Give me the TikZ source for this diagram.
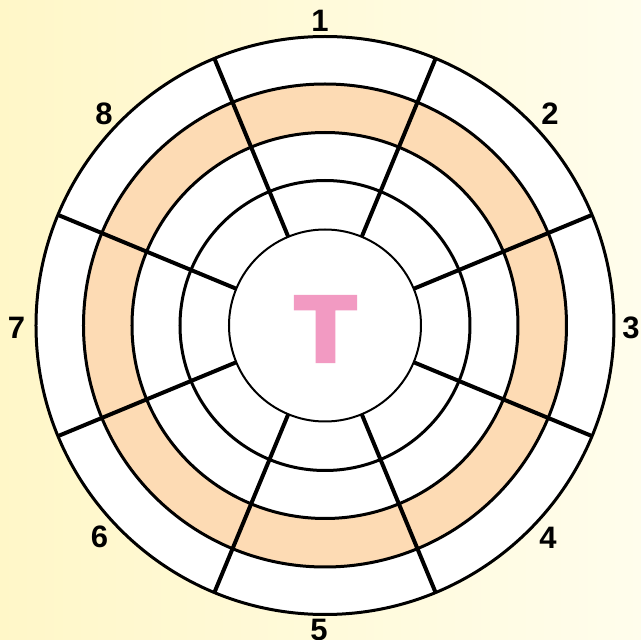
\documentclass[tikz,border=0pt]{standalone}
\usepackage{fontspec}
\setmainfont{Liberation Sans}
\newfontfamily\teefont{DejaVu Sans}[BoldFeatures={FakeBold=3}]
\usetikzlibrary{positioning}
\definecolor{peach}{RGB}{253,219,180}
\definecolor{teepink}{RGB}{242,154,194}
\definecolor{bgleft}{RGB}{255,247,200}
\definecolor{bgright}{RGB}{255,253,236}

\begin{document}
\begin{tikzpicture}[
  x=1pt, y=1pt,
  ring/.style={draw, line width=3pt},
  spoke/.style={draw, line width=4pt},
  num/.style={font=\bfseries\fontsize{31}{31}\selectfont, inner sep=0pt}
]
  % background
  \shade[left color=bgleft, right color=bgright] (-325,-314.5) rectangle (316,325.5);
  \useasboundingbox (-325,-314.5) rectangle (316,325.5);
  \coordinate (c) at (0,0);

  % rings
  \fill[white] (c) circle (289);
  \fill[peach, even odd rule] (c) circle (241.5) (c) circle (193);
  \draw[ring] (c) circle (289);
  \draw[ring] (c) circle (241.5);
  \draw[ring] (c) circle (193);
  \draw[ring] (c) circle (145);
  \foreach \a in {22.5,67.5,...,337.5}
    \draw[spoke] (\a:96) -- (\a:289);
  \draw[line width=2pt, fill=white] (c) circle (96);

  \node[font=\teefont\bfseries\fontsize{90}{90}\selectfont, text=teepink, inner sep=0pt] (tee) at (0.5,-3.5) {T};

  % segment numbers
  \node[num] (n1) at (-5,304.5) {1};
  \node[num] (n2) at (225,212) {2};
  \node[num] (n3) at (306,-2.5) {3};
  \node[num] (n4) at (223,-212) {4};
  \node[num] (n5) at (-6,-304.5) {5};
  \node[num] (n6) at (-225.5,-211) {6};
  \node[num] (n7) at (-308.5,-2.5) {7};
  \node[num] (n8) at (-221,212) {8};
\end{tikzpicture}
\end{document}
